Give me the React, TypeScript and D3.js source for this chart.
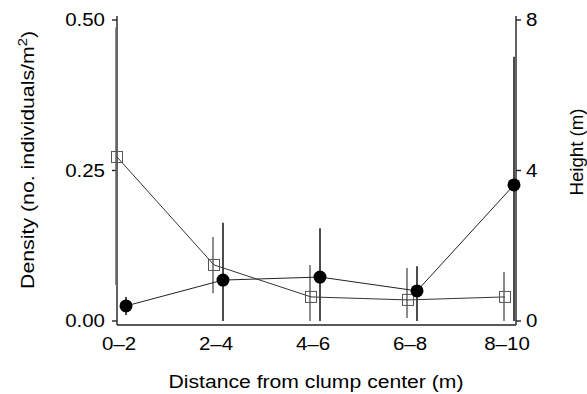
import * as d3 from "d3";
import { useEffect, useRef } from "react";

// distance classes (m)
const categories = ["0–2", "2–4", "4–6", "6–8", "8–10"];

// filled circles: density, left axis
const density = [0.025, 0.068, 0.073, 0.05, 0.226];
const densityLow = [0.01, 0, 0, 0, 0];
const densityHigh = [0.04, 0.163, 0.154, 0.091, 0.439];

// open squares: height, right axis
const height = [4.36, 1.49, 0.64, 0.56, 0.64];
const heightLow = [0.96, 0.74, 0, 0.08, 0];
const heightHigh = [7.8, 2.23, 1.49, 1.41, 1.3];

const densityTicks = [0, 0.25, 0.5];
const heightTicks = [0, 4, 8];

const W = 587;
const H = 394;

export default function App() {
  const ref = useRef<SVGSVGElement>(null);

  useEffect(() => {
    if (!ref.current) return;
    const svg = d3.select(ref.current);
    svg.selectAll("*").remove();

    const left = 117;
    const right = 516;
    const top = 20;
    const zeroY = 321;
    const baseY = 325;
    const font = "'Liberation Sans', Arial, sans-serif";

    // scanned Helvetica is a bit wider than Liberation Sans
    const widen = (t: d3.Selection<SVGTextElement, unknown, null, undefined>, k = 1.17) => {
      const node = t.node();
      if (!node) return;
      t.attr("textLength", node.getComputedTextLength() * k).attr("lengthAdjust", "spacingAndGlyphs");
    };

    const x = d3.scalePoint<string>().domain(categories).range([119, 507]);
    const yL = d3.scaleLinear().domain([0, 0.5]).range([zeroY, top]);
    const yR = d3.scaleLinear().domain([0, 8]).range([zeroY, top]);

    const cx = (i: number) => (x(categories[i]) ?? 0) + 7;
    const sx = (i: number) => (x(categories[i]) ?? 0) - 2;

    // axes frame
    const axis = svg.append("g").attr("stroke", "#222").attr("stroke-width", 1.4).attr("fill", "none");
    axis.append("line").attr("x1", left).attr("x2", left).attr("y1", 16).attr("y2", baseY);
    axis.append("line").attr("x1", right).attr("x2", right).attr("y1", 16).attr("y2", baseY);
    axis.append("line").attr("x1", left).attr("x2", right).attr("y1", baseY).attr("y2", baseY);

    densityTicks.forEach((t) => {
      axis.append("line").attr("x1", left - 5).attr("x2", left).attr("y1", yL(t)).attr("y2", yL(t));
      const lab = svg
        .append("text")
        .attr("x", left - 12)
        .attr("y", yL(t) + 6)
        .attr("text-anchor", "end")
        .style("font", `17.5px ${font}`)
        .text(t.toFixed(2));
      widen(lab);
    });
    heightTicks.forEach((t) => {
      axis.append("line").attr("x1", right).attr("x2", right + 5).attr("y1", yR(t)).attr("y2", yR(t));
      const lab = svg
        .append("text")
        .attr("x", right + 10)
        .attr("y", yR(t) + 6)
        .style("font", `17.5px ${font}`)
        .text(t);
      widen(lab);
    });

    categories.forEach((c) => {
      const lab = svg
        .append("text")
        .attr("x", x(c) ?? 0)
        .attr("y", 350)
        .attr("text-anchor", "middle")
        .style("font", `17.5px ${font}`)
        .text(c);
      widen(lab);
    });

    // titles
    svg
      .append("text")
      .attr("x", 316)
      .attr("y", 388)
      .attr("text-anchor", "middle")
      .attr("textLength", 295)
      .attr("lengthAdjust", "spacingAndGlyphs")
      .style("font", `17.5px ${font}`)
      .text("Distance from clump center (m)");

    const lt = svg
      .append("text")
      .attr("transform", `translate(34,160) rotate(-90)`)
      .attr("text-anchor", "middle")
      .style("font", `17.5px ${font}`);
    lt.append("tspan").text("Density (no. individuals/m");
    lt.append("tspan").attr("dy", -7).style("font-size", "12px").text("2");
    lt.append("tspan").attr("dy", 7).text(")");
    lt.attr("textLength", 258).attr("lengthAdjust", "spacingAndGlyphs");

    svg
      .append("text")
      .attr("transform", `translate(583,152) rotate(-90)`)
      .attr("text-anchor", "middle")
      .attr("textLength", 87)
      .attr("lengthAdjust", "spacingAndGlyphs")
      .style("font", `17.5px ${font}`)
      .text("Height (m)");

    // height error bars (grey)
    const g = svg.append("g");
    height.forEach((_, i) => {
      g.append("line")
        .attr("x1", sx(i) - 1)
        .attr("x2", sx(i) - 1)
        .attr("y1", yR(heightHigh[i]))
        .attr("y2", yR(heightLow[i]))
        .attr("stroke", "#666")
        .attr("stroke-width", 1.5);
    });
    // density error bars (black)
    density.forEach((_, i) => {
      g.append("line")
        .attr("x1", cx(i))
        .attr("x2", cx(i))
        .attr("y1", yL(densityHigh[i]))
        .attr("y2", yL(densityLow[i]))
        .attr("stroke", "#111")
        .attr("stroke-width", 1.5);
    });

    // connecting lines
    const hLine = d3
      .line<number>()
      .x((_, i) => sx(i))
      .y((d) => yR(d));
    const dLine = d3
      .line<number>()
      .x((_, i) => cx(i))
      .y((d) => yL(d));
    g.append("path").attr("d", hLine(height)).attr("fill", "none").attr("stroke", "#333").attr("stroke-width", 1);
    g.append("path").attr("d", dLine(density)).attr("fill", "none").attr("stroke", "#222").attr("stroke-width", 1);

    // markers
    g.selectAll("rect.sq")
      .data(height)
      .join("rect")
      .attr("class", "sq")
      .attr("x", (_, i) => sx(i) - 5.5)
      .attr("y", (d) => yR(d) - 5.5)
      .attr("width", 11)
      .attr("height", 11)
      .attr("fill", "none")
      .attr("stroke", "#555")
      .attr("stroke-width", 1);
    g.selectAll("circle.pt")
      .data(density)
      .join("circle")
      .attr("class", "pt")
      .attr("cx", (_, i) => cx(i))
      .attr("cy", (d) => yL(d))
      .attr("r", 6.5)
      .attr("fill", "#000");
  }, []);

  return (
    <svg
      ref={ref}
      width={W}
      height={H}
      style={{ position: "absolute", left: 0, top: 0, background: "#fff" }}
    />
  );
}
